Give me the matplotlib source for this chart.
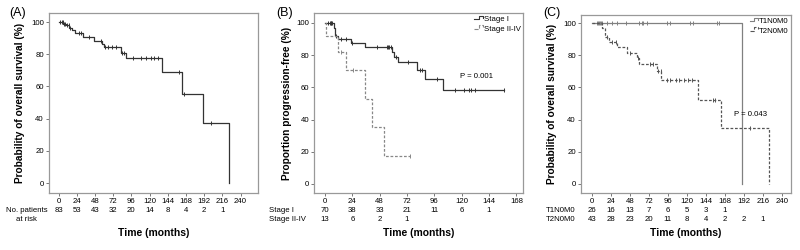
import matplotlib
matplotlib.use("Agg")
import matplotlib.pyplot as plt
import numpy as np
from matplotlib.legend_handler import HandlerBase
from matplotlib.lines import Line2D

plt.rcParams['font.family'] = ['Liberation Sans', 'DejaVu Sans']

# ---- data ----
# (A) overall survival, all patients
a_times = [0, 6, 10, 14, 18, 21, 32, 47, 57, 60, 82, 89, 136, 163, 191, 225]
a_surv = [100, 99, 98, 96.5, 95, 93, 91, 88.5, 86.5, 84.5, 81, 77.5, 69, 55, 37, 0]
a_cens = [2, 4, 5.3, 6.6, 8.8, 11, 13.2, 15.4, 27, 30, 40, 56, 61.5, 65.5, 71, 75.6,
          83, 86.6, 97.6, 108.6, 115, 121.8, 126, 131.4, 159, 165.7, 201]
a_risk = [83, 53, 43, 32, 20, 14, 8, 4, 2, 1]

# (B) progression-free by stage
b1_times = [0, 7.5, 9, 11.5, 22.5, 35, 58.5, 60.5, 64, 80.5, 88, 104]
b1_surv = [100, 97, 92, 90, 87.5, 85, 82, 79, 75.5, 71, 65, 58.5]
b1_cens = [2.6, 4.1, 5, 5.6, 6.5, 10, 14.4, 18.8, 23.8, 45.3, 54, 55, 56.2, 58, 62,
           73.2, 83.5, 85, 98.2, 114.4, 121.8, 126.2, 128.5, 132, 157]
b2_times = [0, 0.9, 11, 18, 35, 41.5, 51.8]
b2_surv = [100, 92, 82, 70.5, 52.5, 35.5, 17.5]
b2_cens = [13.8, 24.4, 74.7]
b_risk1 = [70, 38, 33, 21, 11, 6, 1]
b_risk2 = [13, 6, 2, 1]

# (C) overall survival by T stage
c1_times = [0, 190]
c1_surv = [100, 0]
c1_cens = [6.3, 7.6, 8.8, 10, 11.3, 12.6, 19.7, 25.2, 32.3, 43.2, 60, 63, 65, 70,
           94.4, 98.6, 123.8, 128, 158.6, 160.3]
c2_times = [0, 13.4, 16.8, 21.8, 32.3, 44, 56.7, 59.2, 81.8, 88, 134.3, 162.8, 224.5]
c2_surv = [100, 97, 91.5, 88, 85, 81.5, 78, 74.5, 70, 64.5, 52, 34.5, 0]
c2_cens = [19, 26, 31, 48, 58, 74, 77, 83, 87, 95, 99, 106, 110, 116, 121, 127,
           153, 156, 200]
c_risk1 = [26, 16, 13, 7, 6, 5, 3, 1]
c_risk2 = [43, 28, 23, 20, 11, 8, 4, 2, 2, 1]

FS = 5.6


class StepHandler(HandlerBase):
    def create_artists(self, legend, orig_handle, xdescent, ydescent, width,
                       height, fontsize, trans):
        xs = np.array([0, 0.5, 0.5, 1.0, 1.0]) * width - xdescent
        ys = np.array([0.35, 0.35, 0.95, 0.95, 0.6]) * height - ydescent
        ln = Line2D(xs, ys, color=orig_handle.get_color(),
                    linestyle=orig_handle.get_linestyle(), lw=0.8)
        ln.set_transform(trans)
        return [ln]


def km(ax, times, surv, cens, color, ls='-'):
    times = np.asarray(times, float)
    surv = np.asarray(surv, float)
    cens = np.asarray(cens, float)
    end = max(times[-1], cens.max()) if len(cens) else times[-1]
    xs = np.append(times, end)
    ys = np.append(surv, surv[-1])
    line, = ax.step(xs, ys, where='post', color=color, ls=ls, lw=0.9)
    idx = np.searchsorted(times, cens, side='right') - 1
    ax.plot(cens, surv[idx], ls='none', marker='|', ms=3, mew=0.7, color=color)
    return line


def style(ax, xmax_tick, xlim, ylim, ylabel, ylab_x):
    ax.set_xlim(*xlim)
    ax.set_ylim(*ylim)
    ax.set_xticks(np.arange(0, xmax_tick + 1, 24))
    ax.set_yticks(np.arange(0, 101, 20))
    ax.tick_params(labelsize=FS, length=2, width=0.7, pad=1.5, color='#777777')
    for s in ax.spines.values():
        s.set_color('#999999')
        s.set_linewidth(0.9)
    ax.set_ylabel(ylabel, fontsize=7.3, fontweight='bold')
    ax.yaxis.set_label_coords(ylab_x, 0.5)
    ax.text(0.5, -0.222, 'Time (months)', transform=ax.transAxes, ha='center',
            va='center', fontsize=7.5, fontweight='bold')


def risk_row(ax, values, y):
    tr = ax.get_xaxis_transform()
    for i, v in enumerate(values):
        ax.text(24 * i, y, str(v), transform=tr, ha='center', va='center', fontsize=FS)


fig = plt.figure(figsize=(8, 2.5), dpi=100)
y1, y2 = -0.1, -0.147

# (A)
ax = fig.add_axes([0.061, 0.228, 0.261, 0.72])
km(ax, a_times, a_surv, a_cens, '#333333')
style(ax, 240, (-13, 262.5), (-6.2, 105.6), 'Probability of overall survival (%)', -0.115)
risk_row(ax, a_risk, y1)
ax.text(-0.105, y1, 'No. patients', transform=ax.transAxes, ha='center', va='center', fontsize=FS)
ax.text(-0.105, y2, 'at risk', transform=ax.transAxes, ha='center', va='center', fontsize=FS)
fig.text(0.012, 0.948, '(A)', fontsize=9, va='center')

# (B)
ax = fig.add_axes([0.3925, 0.228, 0.2615, 0.72])
h1 = km(ax, b1_times, b1_surv, b1_cens, '#333333')
h2 = km(ax, b2_times, b2_surv, b2_cens, '#888888', ls=(0, (2.2, 1.4)))
style(ax, 168, (-9.7, 174), (-5.6, 106.2), 'Proportion progression-free (%)', -0.105)
ax.legend([h1, h2], ['Stage I', 'Stage II-IV'], loc='upper right', frameon=False,
          fontsize=FS, handlelength=1.1, handletextpad=0.1, labelspacing=0.25,
          borderaxespad=0.15, borderpad=0.2, handler_map={Line2D: StepHandler()})
ax.text(118.5, 67, 'P = 0.001', fontsize=FS, va='center')
risk_row(ax, b_risk1, y1)
risk_row(ax, b_risk2, y2)
ax.text(-0.215, y1, 'Stage I', transform=ax.transAxes, ha='left', va='center', fontsize=FS)
ax.text(-0.215, y2, 'Stage II-IV', transform=ax.transAxes, ha='left', va='center', fontsize=FS)
fig.text(0.345, 0.948, '(B)', fontsize=9, va='center')

# (C)
ax = fig.add_axes([0.726, 0.228, 0.263, 0.712])
h1 = km(ax, c1_times, c1_surv, c1_cens, '#808080')
h2 = km(ax, c2_times, c2_surv, c2_cens, '#555555', ls=(0, (2.2, 1.4)))
style(ax, 240, (-14, 252), (-5.6, 105), 'Probability of overall survival (%)', -0.114)
ax.legend([h1, h2], ['T1N0M0', 'T2N0M0'], loc='upper right', frameon=False,
          fontsize=FS, handlelength=1.1, handletextpad=0.1, labelspacing=0.25,
          borderaxespad=0.15, borderpad=0.2, handler_map={Line2D: StepHandler()})
ax.text(201, 43, 'P = 0.043', fontsize=FS, va='center', ha='center')
risk_row(ax, c_risk1, y1)
risk_row(ax, c_risk2, y2)
ax.text(-0.167, y1, 'T1N0M0', transform=ax.transAxes, ha='left', va='center', fontsize=FS)
ax.text(-0.167, y2, 'T2N0M0', transform=ax.transAxes, ha='left', va='center', fontsize=FS)
fig.text(0.679, 0.948, '(C)', fontsize=9, va='center')

fig.savefig('out.png', dpi=100)
